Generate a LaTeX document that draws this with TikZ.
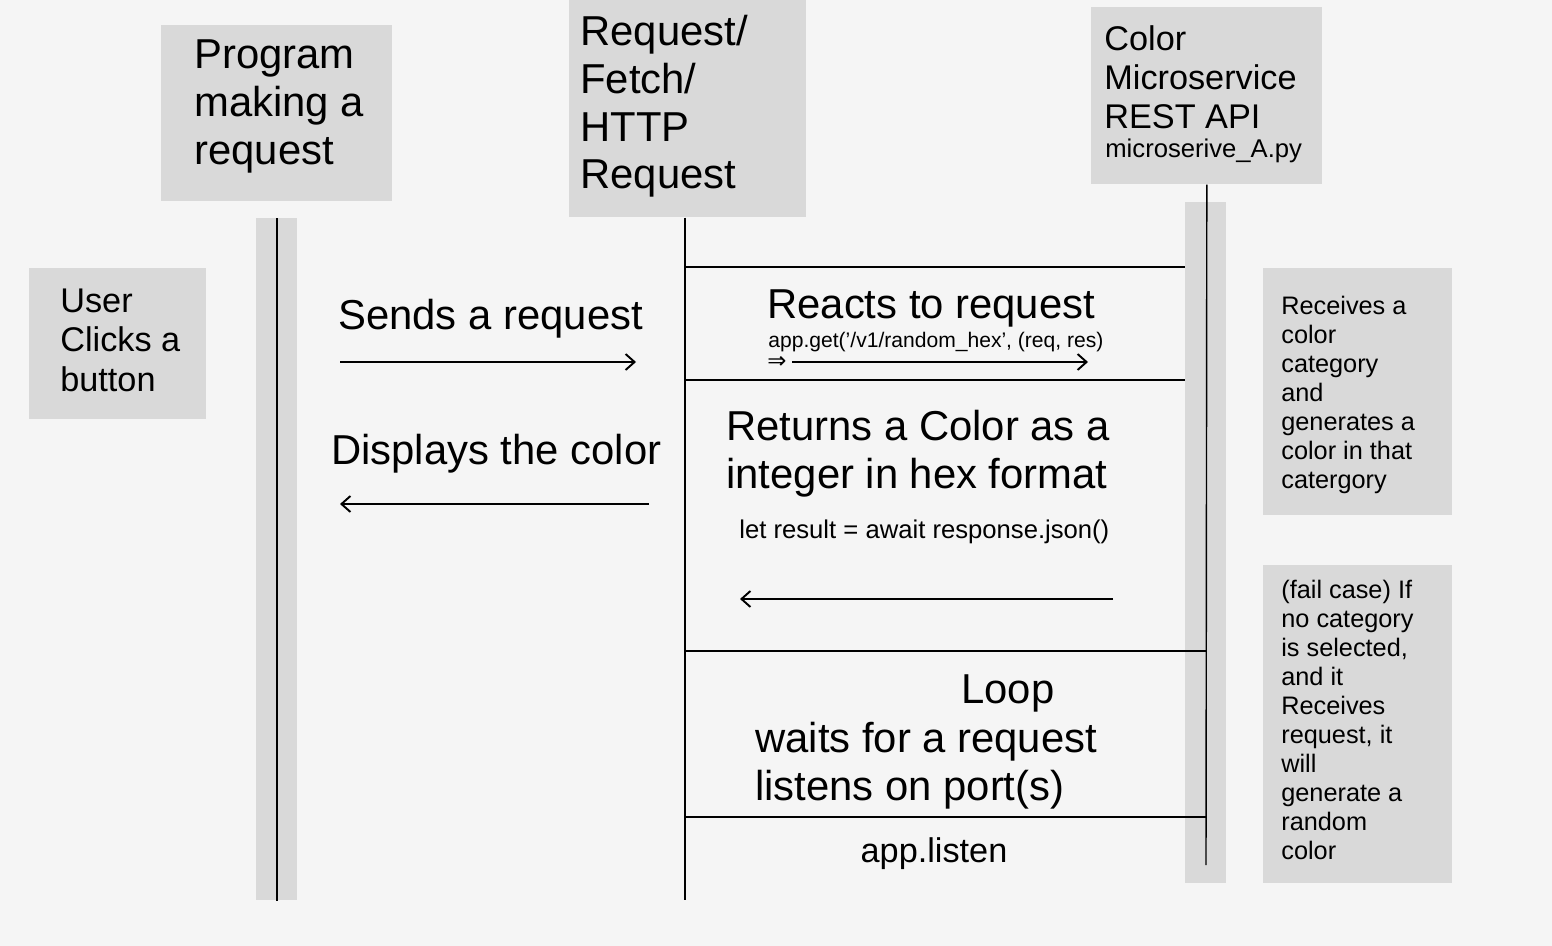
\documentclass[tikz,border=0pt]{standalone}
\usepackage{fontspec}
\setmainfont{Liberation Sans}
\newfontfamily\symfont{DejaVu Sans}
\usetikzlibrary{arrows.meta,positioning,calc}
\definecolor{SQBack}{HTML}{F5F5F5}
\definecolor{SQBox}{HTML}{D9D9D9}
\definecolor{SQInk}{HTML}{000000}
\tikzset{
  msg/.style={-{Straight Barb[length=1.8mm,width=3.2mm]},SQInk,line width=1.1pt},
  life/.style={SQInk,line width=0.8pt},
  sep/.style={SQInk,line width=0.7pt},
  box/.style={fill=SQBox,inner sep=0pt,anchor=north west},
  bigtext/.style={text=SQInk,inner sep=0pt,align=left,font=\fontsize{23.8}{27.3}\selectfont},
  midtext/.style={text=SQInk,inner sep=0pt,align=left,font=\fontsize{19.5}{22.2}\selectfont},
  notetext/.style={text=SQInk,inner sep=0pt,align=left,font=\fontsize{14.4}{16.5}\selectfont},
  codetext/.style={text=SQInk,inner sep=0pt,font=\fontsize{14.6}{16.5}\selectfont},
  tinycode/.style={text=SQInk,inner sep=0pt,font=\fontsize{12}{14}\selectfont},
}
\begin{document}
\begin{tikzpicture}[x=0.02cm,y=-0.02cm]
    \fill[SQBack] (0,0) rectangle (1552,946);
    \useasboundingbox (0,0) rectangle (1552,946);

    % participants
    \node[box,minimum width=4.62cm,minimum height=3.52cm] (progbox)  at (161,25)  {};
    \node[box,minimum width=4.74cm,minimum height=4.34cm] (fetchbox) at (569,0)   {};
    \node[box,minimum width=4.62cm,minimum height=3.54cm] (svcbox)   at (1091,7)  {};
    \node[box,minimum width=3.54cm,minimum height=3.02cm] (userbox)  at (29,268)  {};
    \node[box,minimum width=3.78cm,minimum height=4.94cm] (notebox)  at (1263,268) {};
    \node[box,minimum width=3.78cm,minimum height=6.36cm] (failbox)  at (1263,565) {};

    \node[bigtext,anchor=base west] (progtext)  at (194,164) {Program\\making a\\request};
    \node[bigtext,anchor=base west] (fetchtext) at (580,189) {Request/\\Fetch/\\HTTP\\Request};
    \node[midtext,anchor=base west] (svctext)   at (1104,129) {Color\\Microservice\\REST API};
    \node[codetext,anchor=base west] (svcfile)  at (1105,157) {microserive\_A.py};
    \node[midtext,anchor=base west] (usertext)  at (60,391) {User\\Clicks a\\button};
    \node[notetext,anchor=base west] (notetext) at (1281,488)
      {Receives a\\color\\category\\and\\generates a\\color in that\\catergory};
    \node[notetext,anchor=base west] (failtext) at (1281,859)
      {(fail case) If\\no category\\is selected,\\and it\\Receives\\request, it\\will\\generate a\\random\\color};

    % lifelines
    \node[box,minimum width=0.82cm,minimum height=13.64cm] (progbar) at (256,218) {};
    \node[box,minimum width=0.82cm,minimum height=13.62cm] (svcbar)  at (1185,202) {};
    \coordinate (fetchend) at (685,900);
    \coordinate (svcend) at (1206,865);
    \draw[life] (progbar.north) -- (progbar.south);
    \draw[life] (fetchend |- fetchbox.south) -- (fetchend);
    \draw[life] (svcbox.south) -- (svcend);

    \foreach \y in {267,380}{
      \draw[sep] (fetchend |- 0,\y) -- (svcbar.west |- 0,\y);
    }
    \foreach \y in {651,817}{
      \draw[sep] (fetchend |- 0,\y) -- (svcend |- 0,\y);
    }

    % messages
    \node[bigtext,anchor=base west] (sendlbl) at (338,329) {Sends a request};
    \node[bigtext,anchor=base west] (showlbl) at (331,464) {Displays the color};
    \node[bigtext,anchor=base west] (reactlbl) at (767,318) {Reacts to request};
    \node[tinycode,anchor=base west] (reactcode) at (768,347) {app.get('/v1/random\_hex', (req, res)};
    \node[text=SQInk,inner sep=0pt,font=\symfont\fontsize{13}{15}\selectfont] (reactarr) at (777,362) {⇒};
    \node[bigtext,anchor=base west] (retlbl) at (726,488) {Returns a Color as a\\integer in hex format};
    \node[codetext,anchor=base west] (retcode) at (739,538) {let result = await response.json()};
    \node[bigtext,anchor=base west] (looplbl) at (961,703) {Loop};
    \node[bigtext,anchor=base west] (waitlbl) at (755,800) {waits for a request\\listens on port(s)};
    \node[midtext,anchor=base] (listenlbl) at (934,862) {app.listen};

    \coordinate (sendA) at (340,362);  \coordinate (sendB) at (636,362);
    \coordinate (showA) at (649,504);  \coordinate (showB) at (340,504);
    \coordinate (reactA) at (792,362); \coordinate (reactB) at (1088,362);
    \coordinate (retA) at (1113,599);  \coordinate (retB) at (740,599);
    \foreach \a/\b in {sendA/sendB,showA/showB,reactA/reactB,retA/retB}{
      \draw[msg] (\a) -- (\b);
    }
\end{tikzpicture}
\end{document}
